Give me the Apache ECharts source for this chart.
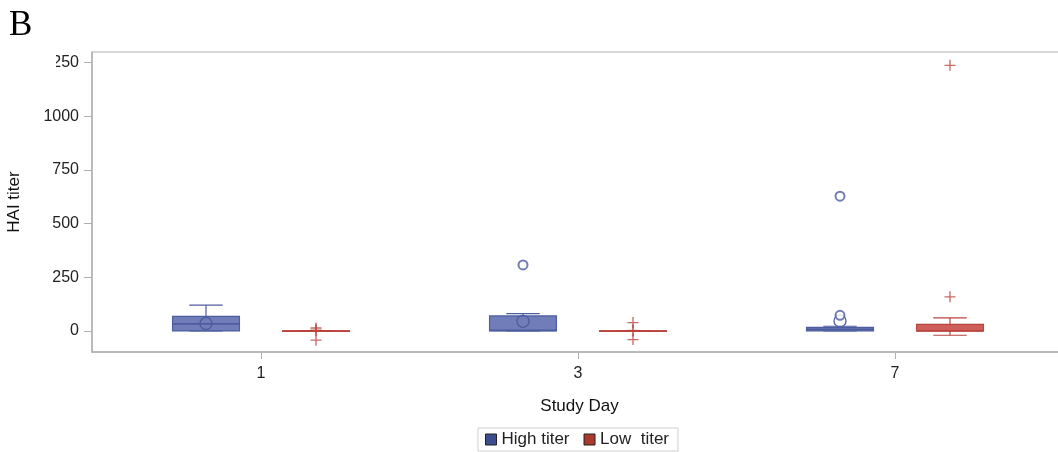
<!DOCTYPE html>
<html>
<head>
<meta charset="utf-8">
<script src="https://cdn.jsdelivr.net/npm/echarts@6/dist/echarts.min.js"></script>
<style>html,body{margin:0;padding:0;background:#fff}#c{width:1058px;height:452px}</style>
</head>
<body>
<div id="c"></div>
<script>
// ---- data ----
const days = ['1', '3', '7'];
const yTicks = [0, 250, 500, 750, 1000, 1250];
// [lower whisker, Q1, median, Q3, upper whisker, mean]
const highStats = [
  [0, 0, 33, 68, 120, 35],
  [0, 0, 3, 70, 81, 45],
  [0, 0, 8, 17, 22, 47]
];
const lowStats = [
  [0, 0, 0, 0, 0, 3],
  [0, 0, 0, 0, 0, 2],
  [-20, 0, 0, 31, 61, null]
];
// [day index, value]
const highOutliers = [[1, 308], [2, 628], [2, 73]];
const lowOutliers = [[0, 14], [0, -43], [1, 39], [1, -40], [2, 159], [2, 1238]];

// ---- styles / layout ----
const OFF = 0.1735, BOXW = 0.211;
const HIGH = {fill: 'rgba(92,107,175,0.88)', line: '#4e5ca0', legend: '#3d4d8e'};
const LOW = {fill: 'rgba(200,72,68,0.88)', line: '#b8443c', legend: '#a83a2e'};
const PLUS = 'path://M4.4,0H5.6V4.4H10V5.6H5.6V10H4.4V5.6H0V4.4H4.4Z';

function boxRenderer(col, meanKind) {
  return function (params, api) {
    const x = api.value(0);
    const hw = api.size([BOXW, 0])[0] / 2;
    const cx = api.coord([x, 0])[0];
    const y = i => api.coord([x, api.value(i)])[1];
    const lw = y(1), q1 = y(2), md = y(3), q3 = y(4), uw = y(5);
    const ls = {stroke: col.line, lineWidth: 1.2};
    const ch = [
      {type: 'line', shape: {x1: cx, y1: q3, x2: cx, y2: uw}, style: ls},
      {type: 'line', shape: {x1: cx, y1: q1, x2: cx, y2: lw}, style: ls},
      {type: 'line', shape: {x1: cx - hw / 2, y1: uw, x2: cx + hw / 2, y2: uw}, style: ls},
      {type: 'line', shape: {x1: cx - hw / 2, y1: lw, x2: cx + hw / 2, y2: lw}, style: ls},
      {type: 'rect', shape: {x: cx - hw, y: q3, width: 2 * hw, height: Math.max(q1 - q3, 0.5)},
        style: {fill: col.fill, stroke: col.line, lineWidth: 1.2}},
      {type: 'line', shape: {x1: cx - hw, y1: md, x2: cx + hw, y2: md}, style: {stroke: col.line, lineWidth: 1.6}}
    ];
    const mv = api.value(6);
    if (mv !== null && mv !== undefined && !isNaN(mv)) {
      const my = y(6);
      if (meanKind === 'circle') {
        ch.push({type: 'circle', shape: {cx: cx, cy: my, r: 6}, style: {fill: 'none', stroke: col.line, lineWidth: 1.3}});
      } else {
        ch.push({type: 'line', shape: {x1: cx - 6, y1: my, x2: cx + 6, y2: my}, style: {stroke: col.line, lineWidth: 1.4}});
        ch.push({type: 'line', shape: {x1: cx, y1: my - 6, x2: cx, y2: my + 6}, style: {stroke: col.line, lineWidth: 1.4}});
      }
    }
    return {type: 'group', children: ch};
  };
}

const chart = echarts.init(document.getElementById('c'), null, {renderer: 'canvas'});
const FONT = 'Liberation Sans';
const axisGray = '#b0b0b0';
const X0 = 261, STEP = 317, GL = 92, GW = 975;

chart.setOption({
  animation: false,
  textStyle: {fontFamily: FONT},
  graphic: [
    {type: 'text', left: 9, top: 8, z: 10,
      style: {text: 'B', font: '35px "Liberation Serif"', fill: '#000'}},
    {type: 'rect', shape: {x: 0, y: 54, width: 56, height: 20}, style: {fill: '#fff'}, z: 100}
  ],
  grid: {left: GL, top: 52, width: GW, height: 300, show: true, borderColor: axisGray, borderWidth: 1,
    backgroundColor: 'transparent', containLabel: false, outerBoundsMode: 'none'},
  legend: {
    top: 428, left: 478,
    data: [
      {name: 'High titer', itemStyle: {color: HIGH.legend, borderColor: '#222', borderWidth: 1}},
      {name: 'Low  titer', itemStyle: {color: LOW.legend, borderColor: '#222', borderWidth: 1}}
    ],
    icon: 'rect', itemWidth: 11, itemHeight: 11, itemGap: 14,
    borderColor: '#cfcfcf', borderWidth: 1, padding: [3, 9, 3, 7],
    textStyle: {fontSize: 17, color: '#222', fontFamily: FONT}
  },
  xAxis: {
    type: 'value',
    min: (GL - X0) / STEP, max: (GL + GW - X0) / STEP,
    name: 'Study Day', nameLocation: 'middle', nameGap: 46,
    nameTextStyle: {fontSize: 17, color: '#111', fontFamily: FONT},
    axisLine: {show: true, onZero: false, lineStyle: {color: axisGray, width: 1.5}},
    axisTick: {show: true, length: 7, customValues: [0, 1, 2], lineStyle: {color: axisGray}},
    axisLabel: {customValues: [0, 1, 2], formatter: v => days[Math.round(v)], fontSize: 16, color: '#222', margin: 14, fontFamily: FONT},
    splitLine: {show: false}
  },
  yAxis: {
    type: 'value', min: -98, max: 1300,
    name: 'HAI titer', nameLocation: 'middle', nameGap: 69, nameRotate: 90,
    nameTextStyle: {fontSize: 17, color: '#111', fontFamily: FONT},
    axisLine: {show: true, onZero: false, lineStyle: {color: axisGray, width: 1.5}},
    axisTick: {show: true, length: 8, customValues: yTicks, lineStyle: {color: axisGray}},
    axisLabel: {customValues: yTicks, formatter: v => String(v), fontSize: 16, color: '#222', margin: 13, fontFamily: FONT},
    splitLine: {show: false}
  },
  series: [
    {type: 'custom', name: 'High titer', renderItem: boxRenderer(HIGH, 'circle'),
      itemStyle: {color: HIGH.legend},
      encode: {x: 0, y: [1, 2, 3, 4, 5]},
      data: highStats.map((s, i) => [i - OFF].concat(s))},
    {type: 'custom', name: 'Low  titer', renderItem: boxRenderer(LOW, 'plus'),
      itemStyle: {color: LOW.legend},
      encode: {x: 0, y: [1, 2, 3, 4, 5]},
      data: lowStats.map((s, i) => [i + OFF].concat(s))},
    {type: 'scatter', name: 'High titer', symbol: 'emptyCircle', symbolSize: 9,
      itemStyle: {color: HIGH.line, borderColor: HIGH.line, borderWidth: 1.3},
      data: highOutliers.map(d => [d[0] - OFF, d[1]])},
    {type: 'scatter', name: 'Low  titer', symbol: PLUS, symbolSize: 11,
      itemStyle: {color: LOW.line},
      data: lowOutliers.map(d => [d[0] + OFF, d[1]])}
  ]
});
</script>
</body>
</html>
